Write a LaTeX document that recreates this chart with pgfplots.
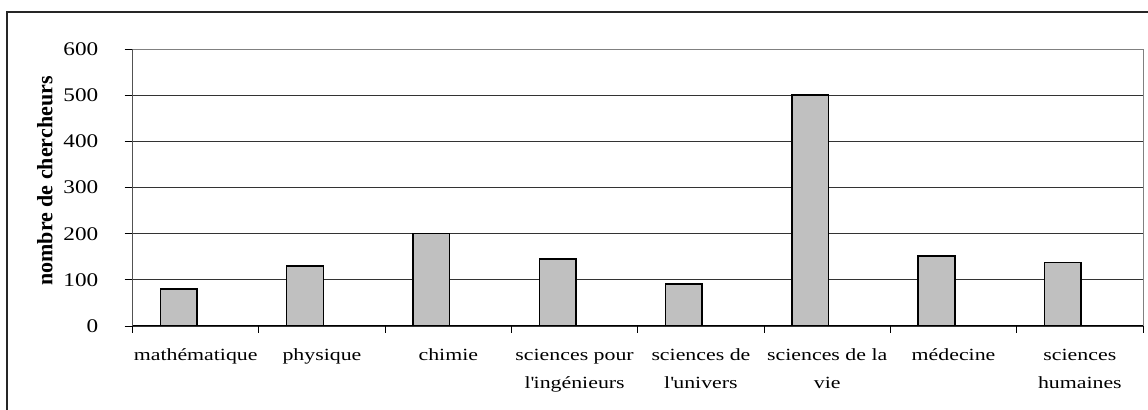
\documentclass[border=0pt]{standalone}
\usepackage{fontspec}
\setmainfont{Liberation Serif}
\newfontfamily\tickfont{Liberation Serif}[FakeStretch=1.2]
\newfontfamily\xfont{Liberation Serif}[FakeStretch=1.28]
\usepackage{pgfplots}
\pgfplotsset{compat=1.18}
\definecolor{barfill}{RGB}{192,192,192}
\begin{document}
\begin{tikzpicture}
\useasboundingbox (0,0) rectangle (861pt,307.5pt);
\draw[line width=1pt, black!85] (5.25pt,0) -- (5.25pt,298.5pt) -- (861pt,298.5pt);
\begin{axis}[
  at={(99.4pt,63pt)}, anchor=south west,
  scale only axis, width=757.85pt, height=207.75pt,
  xmin=-0.5, xmax=7.5, ymin=0, ymax=600,
  ytick={0,100,...,600},
  xtick={0,...,7},
  xticklabels={math\'ematique, physique, chimie, sciences pour\\l\textquotesingle ing\'enieurs, sciences de\\l\textquotesingle univers, sciences de la\\vie, m\'edecine, sciences\\humaines},
  major x tick style={draw=none},
  minor xtick={-0.5,0.5,...,7.5},
  minor tick length=5.25pt,
  major tick length=6pt,
  tick align=outside,
  xtick pos=bottom, ytick pos=left,
  tick style={black, line width=0.6pt},
  ymajorgrids, grid style={black!80, line width=0.6pt},
  axis line style={gray, line width=0.75pt},
  /pgf/number format/assume math mode=true,
  yticklabel style={font=\tickfont\fontsize{14.5}{21}\selectfont, anchor=east, inner sep=0pt, xshift=-19.5pt},
  xticklabel style={font=\xfont\fontsize{12.8}{21}\selectfont, anchor=north, inner sep=0pt, align=center, yshift=-11pt},
  ylabel={nombre de chercheurs},
  every axis y label/.style={at={([xshift=-65.65pt]rel axis cs:0,0.5235)}, rotate=90, anchor=center, font=\bfseries\fontsize{16.5}{19}\selectfont},
]
\addplot[ybar, bar width=0.29, bar shift=-0.135, fill=barfill, draw=black, line width=1.1pt]
  coordinates {(0,80) (1,130) (2,200) (3,145) (4,91) (5,500) (6,152) (7,137)};
\draw[black, line width=0.75pt] (rel axis cs:0,1) -- (rel axis cs:0,0) -- (rel axis cs:1,0);
\end{axis}
\end{tikzpicture}
\end{document}
